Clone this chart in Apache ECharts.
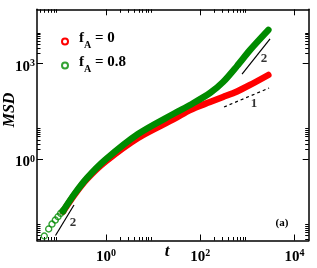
<!DOCTYPE html>
<html><head><meta charset="utf-8">
<script src="https://cdn.jsdelivr.net/npm/echarts@6/dist/echarts.min.js"></script>
<style>html,body{margin:0;padding:0;background:#fff}#c{width:317px;height:268px}</style>
</head><body><div id="c"></div>
<script>
// ---- data ----
const seriesNames = ['f_A = 0', 'f_A = 0.8'];
const legendLabels = ['{m|f}{s|A}{m| = 0}', '{m|f}{s|A}{m| = 0.8}'];
const tEarly = [0.049, 0.0607, 0.0714, 0.0839, 0.0957, 0.109, 0.122];
const msdGreenEarly = [0.00386, 0.0064, 0.00916, 0.0122, 0.0155, 0.0199, 0.0234];
const tBand = [0.122, 0.22, 0.395, 0.952, 4.78, 29.2, 60.7, 161, 305, 604, 1140, 2790];
const msdRed = [0.0225, 0.08, 0.235, 0.805, 4.55, 18.6, 34.4, 61.2, 87.9, 131, 209, 430];
const msdGreen = [0.0234, 0.085, 0.254, 0.93, 6.08, 27.7, 49.3, 117, 259, 822, 2612, 11070];
const xMajorTicks = [1, 100, 10000];
const xMinorTicks = [0.04, 0.05, 0.06, 0.07, 0.08, 0.09, 2, 3, 4, 5, 6, 7, 8, 9, 200, 300, 400, 500, 600, 700, 800, 900];
const yMajorTicks = [1, 1000];
const yMinorTicks = [0.003, 0.004, 0.005, 0.006, 0.007, 0.008, 0.009, 2, 3, 4, 5, 6, 7, 8, 9, 2000, 3000, 4000, 5000, 6000, 7000, 8000, 9000];
const guideSlope2Upper = [[771, 462], [3034, 5780]];
const guideSlope1 = [[320, 42.7], [2890, 168]];
const guideSlope2Lower = [[0.0847, 0.0040], [0.209, 0.0361]];
const guideLabels = [[2263, 1364, '2'], [1388, 53, '1'], [0.199, 0.00986, '2']];
const xRange = [0.0343, 20050];
const yRange = [0.00279, 49300];

// ---- styling ----
const RED = '#ff0000', GREEN = '#008b00';
const SERIF = 'Liberation Serif';
const supFmt = v => '{b|10}{s|' + Math.round(Math.log10(v)) + '}';
const labelRich = {
  b: {fontFamily: SERIF, fontWeight: 'bold', fontSize: 15, lineHeight: 16, verticalAlign: 'bottom', color: '#000'},
  s: {fontFamily: SERIF, fontWeight: 'bold', fontSize: 10, lineHeight: 10, verticalAlign: 'top', color: '#000'}
};
const lineStyleAxis = {color: '#000', width: 1.5};

function xAxisDef(pos, ticks, len, major, labels) {
  return {
    type: 'log', logBase: 10, position: pos, min: xRange[0], max: xRange[1],
    axisLine: {show: major, onZero: false, lineStyle: lineStyleAxis},
    axisTick: {show: true, inside: true, length: len, customValues: ticks, lineStyle: {color: '#000', width: 1}},
    axisLabel: labels ? {show: true, customValues: ticks, formatter: supFmt, margin: 8, rich: labelRich} : {show: false},
    splitLine: {show: false}, minorTick: {show: false}
  };
}
function yAxisDef(pos, ticks, len, major, labels) {
  return {
    type: 'log', logBase: 10, position: pos, min: yRange[0], max: yRange[1],
    axisLine: {show: major, onZero: false, lineStyle: lineStyleAxis},
    axisTick: {show: true, inside: true, length: len, customValues: ticks, lineStyle: {color: '#000', width: 1}},
    axisLabel: labels ? {show: true, customValues: ticks, formatter: supFmt, margin: 2, padding: [6, 0, 0, 0], rich: labelRich} : {show: false},
    splitLine: {show: false}, minorTick: {show: false}
  };
}

const chart = echarts.init(document.getElementById('c'), null, {renderer: 'canvas'});
const zip = (a, b) => a.map((v, i) => [v, b[i]]);
const guideLine = (d, dashed) => ({
  type: 'line', data: d, showSymbol: false, symbol: 'none', silent: true,
  lineStyle: {color: '#000', width: 1.2, type: dashed ? [3, 3] : 'solid'}, z: 5
});

chart.setOption({
  animation: false,
  grid: {left: 37, top: 9.3, right: 8.3, bottom: 27.5},
  xAxis: [
    xAxisDef('bottom', xMajorTicks, 6, true, true),
    xAxisDef('bottom', xMinorTicks, 3.5, false, false),
    xAxisDef('top', xMajorTicks, 6, true, false),
    xAxisDef('top', xMinorTicks, 3.5, false, false)
  ],
  yAxis: [
    yAxisDef('left', yMajorTicks, 6, true, true),
    yAxisDef('left', yMinorTicks, 3.5, false, false),
    yAxisDef('right', yMajorTicks, 6, true, false),
    yAxisDef('right', yMinorTicks, 3.5, false, false)
  ],
  legend: seriesNames.map((n, i) => ({
    data: [{name: n, icon: 'emptyCircle', itemStyle: {color: [RED, GREEN][i]}}],
    left: 61, top: [27, 51][i], padding: 0, itemWidth: 18, itemHeight: 6, selectedMode: false,
    formatter: () => legendLabels[i],
    textStyle: {padding: [0, 0, 6, 0], rich: {
      m: {fontFamily: SERIF, fontWeight: 'bold', fontSize: 15, lineHeight: 15, color: '#000'},
      s: {fontFamily: SERIF, fontWeight: 'bold', fontSize: 10, lineHeight: 10, padding: [13, 0, 0, 0], color: '#000'}
    }}
  })),
  graphic: [
    {type: 'text', x: 10, y: 110, rotation: Math.PI / 2, style: {text: 'MSD', fontFamily: SERIF, fontWeight: 'bold', fontStyle: 'italic', fontSize: 16, align: 'center', verticalAlign: 'middle', fill: '#000'}},
    {type: 'text', x: 167, y: 252, style: {text: 't', fontFamily: SERIF, fontWeight: 'bold', fontStyle: 'italic', fontSize: 17, align: 'center', verticalAlign: 'middle', fill: '#000'}},
    {type: 'text', x: 282, y: 223, style: {text: '(a)', fontFamily: SERIF, fontWeight: 'bold', fontSize: 11, align: 'center', verticalAlign: 'middle', fill: '#000'}}
  ],
  series: [
    {name: seriesNames[0], type: 'line', data: zip(tBand, msdRed), showSymbol: false, symbol: 'emptyCircle', smooth: 0.3,
     itemStyle: {color: RED}, lineStyle: {color: RED, width: 6.5, cap: 'round', join: 'round'}, z: 2},
    {name: seriesNames[1], type: 'scatter', data: zip(tEarly, msdGreenEarly), symbol: 'circle', symbolSize: 6,
     itemStyle: {color: 'rgba(0,0,0,0)', borderColor: GREEN, borderWidth: 1.4}, z: 3},
    {name: seriesNames[1], type: 'line', data: zip(tBand, msdGreen), showSymbol: false, symbol: 'emptyCircle', smooth: 0.3,
     itemStyle: {color: GREEN}, lineStyle: {color: GREEN, width: 6.5, cap: 'round', join: 'round'}, z: 3},
    guideLine(guideSlope2Upper, false),
    guideLine(guideSlope1, true),
    guideLine(guideSlope2Lower, false),
    {type: 'scatter', data: guideLabels, symbolSize: 1, itemStyle: {color: 'rgba(0,0,0,0)'}, silent: true, z: 6,
     label: {show: true, position: 'inside', formatter: p => p.data[2], fontFamily: SERIF, fontWeight: 'bold', fontSize: 13, color: '#000'}}
  ]
});
</script></body></html>
